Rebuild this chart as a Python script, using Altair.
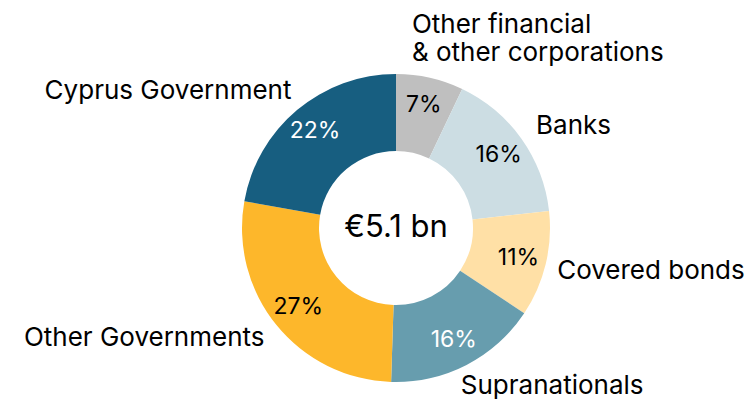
import altair as alt
import pandas as pd

categories = ["Other financial & other corporations", "Banks", "Covered bonds",
              "Supranationals", "Other Governments", "Cyprus Government"]
labels = ["Other financial\n\u00a0& other corporations", "Banks", "Covered bonds",
          "Supranationals", "Other Governments", "Cyprus Government"]
shares = [7, 16, 11, 16, 27, 22]
pct_labels = ["7%", "16%", "11%", "16%", "27%", "22%"]
slice_colors = ["#BFBFBF", "#CCDDE3", "#FFE0A6", "#679DAE", "#FDB72B", "#175E80"]
light_text = ["Supranationals", "Cyprus Government"]
total_label = "€5.1 bn"

FONT = "Inter"
FS = 26
CX, CY = 388, 220

df = pd.DataFrame({
    "category": categories,
    "label": labels,
    "share": shares,
    "pct": pct_labels,
    "order": list(range(len(categories))),
})

base = alt.Chart(df).encode(
    theta=alt.Theta("share:Q", stack=True),
    order=alt.Order("order:Q"),
)

arcs = base.mark_arc(x=CX, y=CY, outerRadius=154, innerRadius=77).encode(
    color=alt.Color("category:N", scale=alt.Scale(domain=categories, range=slice_colors), legend=None)
)

pct = base.mark_text(x=CX, y=CY, radius=126, font=FONT, fontSize=23,
                     align="center", baseline="middle").encode(
    text="pct:N",
    color=alt.condition(alt.FieldOneOfPredicate(field="category", oneOf=light_text),
                        alt.value("white"), alt.value("black")),
)


def outer_label(cat, align, dx=0, dy=0):
    return base.mark_text(x=CX, y=CY, radius=172, align=align, baseline="middle",
                          dx=dx, dy=dy, font=FONT, fontSize=FS, lineBreak="\n",
                          lineHeight=28, color="black").encode(
        text=alt.condition(alt.datum.category == cat, "label:N", alt.value(""))
    )


outer = [
    outer_label(categories[0], "left", dx=-22, dy=-35),
    outer_label(categories[1], "left", dx=0, dy=-2),
    outer_label(categories[2], "left", dx=-6, dy=2),
    outer_label(categories[3], "left", dx=-14, dy=5),
    outer_label(categories[4], "right", dx=2, dy=2),
    outer_label(categories[5], "right", dx=6, dy=-5),
]

center = alt.Chart(pd.DataFrame({"t": [total_label]})).mark_text(
    x=CX, y=CY, font=FONT, fontSize=31, align="center", baseline="middle", color="black"
).encode(text="t:N")

chart = alt.layer(arcs, pct, *outer, center).properties(
    width=738, height=384, padding=0
).configure_view(stroke=None)

chart.save("out.html", embed_options={"renderer": "svg", "actions": False})
